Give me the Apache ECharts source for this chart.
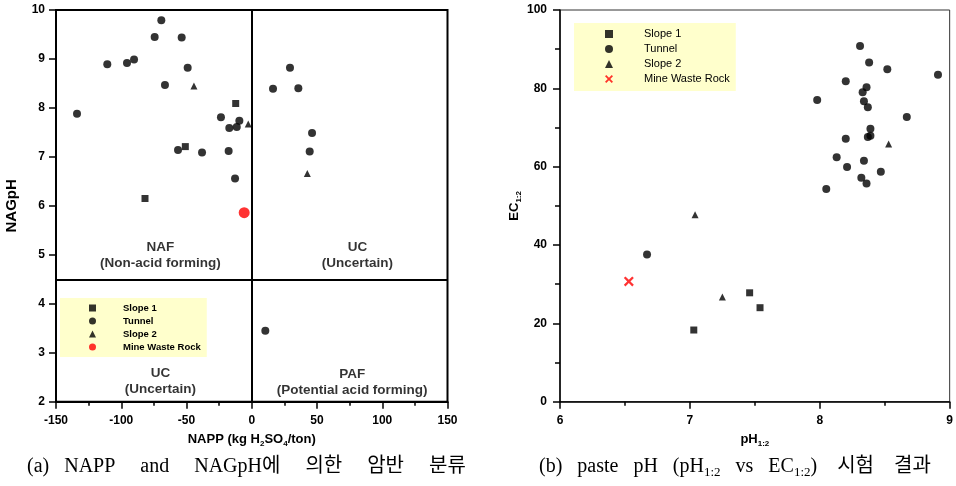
<!DOCTYPE html>
<html>
<head>
<meta charset="utf-8">
<script src="https://cdn.jsdelivr.net/npm/echarts@6/dist/echarts.min.js"></script>
<style>html,body{margin:0;padding:0;background:#fff}#c{width:956px;height:486px}</style>
</head>
<body>
<div id="c"></div>
<script>
// ---- (a) NAPP vs NAGpH ----
const napSlope1 = [[-81.8, 6.15], [-50.9, 7.21], [-12.3, 8.09]];
const napTunnel = [
  [-133.9, 7.88], [-110.7, 8.89], [-95.6, 8.92], [-90.2, 8.99], [-74.4, 9.45],
  [-69.3, 9.79], [-66.5, 8.47], [-53.7, 9.44], [-49.1, 8.82], [-56.5, 7.14],
  [-38.1, 7.09], [-23.6, 7.81], [-17.2, 7.59], [-11.5, 7.61], [-9.5, 7.74],
  [-17.7, 7.12], [-12.8, 6.56], [29.3, 8.82], [16.3, 8.39], [35.7, 8.40],
  [46.2, 7.49], [44.4, 7.11], [10.4, 3.45]
];
const napSlope2 = [[-44.3, 8.45], [-2.7, 7.67], [42.6, 6.66]];
const napMine = [[-5.8, 5.86]];
const regionLabels = [
  { value: [-70, 5.0], name: 'NAF\n(Non-acid forming)' },
  { value: [81, 5.0], name: 'UC\n(Uncertain)' },
  { value: [-70, 2.41], name: 'UC\n(Uncertain)' },
  { value: [77, 2.40], name: 'PAF\n(Potential acid forming)' }
];
const napTicksX = [-150, 150, 50];
const napTicksY = [2, 10, 1];

// ---- (b) pH1:2 vs EC1:2 ----
const phSlope1 = [[7.03, 18.3], [7.46, 27.8], [7.54, 24.0]];
const phTunnel = [
  [8.31, 90.8], [8.38, 86.6], [8.52, 84.9], [8.91, 83.5], [8.20, 81.8],
  [8.36, 80.3], [8.33, 79.0], [7.98, 77.0], [8.34, 76.7], [8.37, 75.2],
  [8.67, 72.7], [8.39, 69.7], [8.39, 67.9], [8.37, 67.6], [8.20, 67.1],
  [8.13, 62.4], [8.34, 61.5], [8.21, 59.9], [8.47, 58.7], [8.32, 57.2],
  [8.36, 55.7], [8.05, 54.3], [6.67, 37.6]
];
const phSlope2 = [[8.53, 65.8], [7.04, 47.7], [7.25, 26.7]];
const phMine = [[6.53, 30.7]];
const phTicksX = [6, 9, 1];
const phTicksY = [0, 100, 20];

const names = ['Slope 1', 'Tunnel', 'Slope 2', 'Mine Waste Rock'];
const captionA = '(a)   NAPP     and     NAGpH에     의한     암반     분류';
const captionB = ['(b)   paste   pH   (pH', '1:2', '   vs   EC', '1:2', ')    시험    결과'];

const XPATH = 'path://M0,1.6L1.6,0L5,3.4L8.4,0L10,1.6L6.6,5L10,8.4L8.4,10L5,6.6L1.6,10L0,8.4L3.4,5Z';
const TXT = 'Liberation Sans, Arial, sans-serif';
const SERIF = '"Liberation Serif", "Noto Sans CJK KR", serif';

const chart = echarts.init(document.getElementById('c'), null, { renderer: 'canvas' });

const labelStyle = { fontFamily: TXT, fontWeight: 'bold', fontSize: 12, color: '#000' };
const subRich = {
  n: { fontFamily: TXT, fontWeight: 'bold', fontSize: 13, color: '#000', lineHeight: 17 },
  s: { fontFamily: TXT, fontWeight: 'bold', fontSize: 8, color: '#000', verticalAlign: 'bottom', lineHeight: 12 }
};

function axisCommon(lw, margin) {
  return {
    axisLine: { show: true, onZero: false, lineStyle: { color: '#000', width: lw } },
    axisTick: { show: true, inside: false, length: 7, lineStyle: { color: '#000', width: 1.5 } },
    splitLine: { show: false },
    axisLabel: Object.assign({ margin: margin }, labelStyle)
  };
}

const captionRich = { t: { fontFamily: SERIF, fontSize: 20, fill: '#000', lineHeight: 24 },
  s: { fontFamily: '"Liberation Serif", serif', fontSize: 13, fill: '#000', verticalAlign: 'bottom', lineHeight: 15 } };

const option = {
  animation: false,
  backgroundColor: '#fff',
  grid: [
    { left: 56, top: 10, width: 391.5, height: 391.7, show: true, borderColor: '#000', borderWidth: 2, backgroundColor: 'transparent' },
    { left: 560, top: 10, width: 391.7, height: 391.7, show: true, borderColor: '#333', borderWidth: 1, backgroundColor: 'transparent' }
  ],
  xAxis: [
    Object.assign(axisCommon(2, 13), {
      gridIndex: 0, type: 'value', min: napTicksX[0], max: napTicksX[1], interval: napTicksX[2],
      minorTick: { show: true, splitNumber: 2, length: 4, lineStyle: { color: '#000', width: 1.5 } },
      name: '{n|NAPP (kg H}{s|2}{n|SO}{s|4}{n|/ton)}', nameLocation: 'middle', nameGap: 29,
      nameTextStyle: { rich: subRich }
    }),
    Object.assign(axisCommon(1.5, 13), {
      gridIndex: 1, type: 'value', min: phTicksX[0], max: phTicksX[1], interval: phTicksX[2],
      minorTick: { show: true, splitNumber: 2, length: 4, lineStyle: { color: '#000', width: 1.5 } },
      name: '{n|pH}{s|1:2}', nameLocation: 'middle', nameGap: 29,
      nameTextStyle: { rich: subRich }
    })
  ],
  yAxis: [
    Object.assign(axisCommon(2, 11), {
      gridIndex: 0, type: 'value', min: napTicksY[0], max: napTicksY[1], interval: napTicksY[2],
      name: 'NAGpH', nameLocation: 'middle', nameGap: 37,
      nameTextStyle: { fontFamily: TXT, fontWeight: 'bold', fontSize: 15, color: '#000' }
    }),
    Object.assign(axisCommon(1.5, 13), {
      gridIndex: 1, type: 'value', min: phTicksY[0], max: phTicksY[1], interval: phTicksY[2],
      minorTick: { show: true, splitNumber: 2, length: 5, lineStyle: { color: '#000', width: 1.5 } },
      name: '{n|EC}{s|1:2}', nameLocation: 'middle', nameGap: 37,
      nameTextStyle: { rich: subRich }
    })
  ],
  legend: [
    {
      left: 60, top: 298, orient: 'vertical',
      backgroundColor: '#ffffcc', borderWidth: 0, borderRadius: 0,
      padding: [5, 6, 5, 29], itemWidth: 7, itemHeight: 7, itemGap: 3,
      textStyle: { fontFamily: TXT, fontWeight: 'bold', fontSize: 9.5, lineHeight: 10, color: '#000', padding: [0, 0, 0, 22] },
      selectedMode: false,
      data: [
        { name: 'Slope 1', icon: 'rect', itemStyle: { color: '#000' } },
        { name: 'Tunnel', icon: 'circle', itemStyle: { color: '#000' } },
        { name: 'Slope 2', icon: 'triangle', itemStyle: { color: '#000' } },
        { name: 'Mine Waste Rock', icon: 'circle', itemStyle: { color: '#ff0000' } }
      ]
    },
    {
      left: 574, top: 23, orient: 'vertical',
      backgroundColor: '#ffffcc', borderWidth: 0, borderRadius: 0,
      padding: [5, 6, 6, 31], itemWidth: 8, itemHeight: 8, itemGap: 3,
      textStyle: { fontFamily: TXT, fontSize: 11, lineHeight: 12, color: '#000', padding: [0, 0, 0, 26] },
      selectedMode: false,
      data: [
        { name: 'Slope 1', icon: 'rect', itemStyle: { color: '#000' } },
        { name: 'Tunnel', icon: 'circle', itemStyle: { color: '#000' } },
        { name: 'Slope 2', icon: 'triangle', itemStyle: { color: '#000' } },
        { name: 'Mine Waste Rock', icon: XPATH, itemStyle: { color: '#ff0000' } }
      ]
    }
  ],
  series: [
    { name: names[0], type: 'scatter', xAxisIndex: 0, yAxisIndex: 0, symbol: 'rect', symbolSize: 7, itemStyle: { color: '#000' }, data: napSlope1 },
    {
      name: names[1], type: 'scatter', xAxisIndex: 0, yAxisIndex: 0, symbol: 'circle', symbolSize: 8, itemStyle: { color: '#000' }, data: napTunnel,
      markLine: {
        silent: true, symbol: 'none', label: { show: false },
        lineStyle: { color: '#000', width: 2, type: 'solid' },
        data: [{ xAxis: 0 }, { yAxis: 4.5 }]
      }
    },
    { name: names[2], type: 'scatter', xAxisIndex: 0, yAxisIndex: 0, symbol: 'triangle', symbolSize: 7, itemStyle: { color: '#000' }, data: napSlope2 },
    { name: names[3], type: 'scatter', xAxisIndex: 0, yAxisIndex: 0, symbol: 'circle', symbolSize: 11, itemStyle: { color: '#ff0000' }, data: napMine },
    {
      name: 'regions', type: 'scatter', xAxisIndex: 0, yAxisIndex: 0, symbolSize: 0, silent: true,
      label: { show: true, position: 'inside', formatter: '{b}', fontFamily: TXT, fontWeight: 'bold', fontSize: 13.5, color: '#000', lineHeight: 16, align: 'center' },
      data: regionLabels
    },
    { name: names[0], type: 'scatter', xAxisIndex: 1, yAxisIndex: 1, symbol: 'rect', symbolSize: 7, itemStyle: { color: '#000' }, data: phSlope1 },
    { name: names[1], type: 'scatter', xAxisIndex: 1, yAxisIndex: 1, symbol: 'circle', symbolSize: 8, itemStyle: { color: '#000' }, data: phTunnel },
    { name: names[2], type: 'scatter', xAxisIndex: 1, yAxisIndex: 1, symbol: 'triangle', symbolSize: 7, itemStyle: { color: '#000' }, data: phSlope2 },
    { name: names[3], type: 'scatter', xAxisIndex: 1, yAxisIndex: 1, symbol: XPATH, symbolSize: 10, itemStyle: { color: '#ff0000' }, data: phMine }
  ],
  graphic: [
    {
      type: 'text', left: 27, top: 457,
      style: { text: '{t|' + captionA + '}', rich: captionRich }
    },
    {
      type: 'text', left: 539, top: 457,
      style: {
        text: '{t|' + captionB[0] + '}{s|' + captionB[1] + '}{t|' + captionB[2] + '}{s|' + captionB[3] + '}{t|' + captionB[4] + '}',
        rich: captionRich
      }
    }
  ]
};
chart.setOption(option);
</script>
</body>
</html>
